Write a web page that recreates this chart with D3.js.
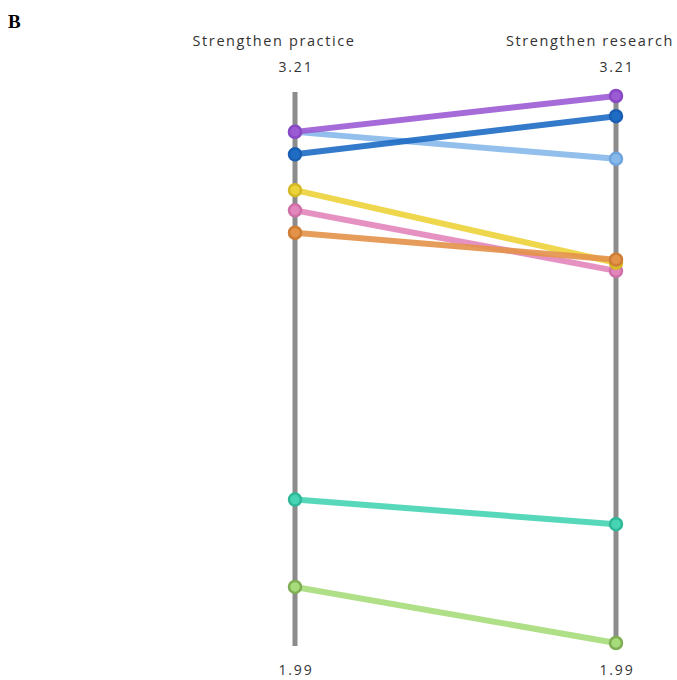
<!DOCTYPE html>
<html><head><meta charset="utf-8">
<script src="https://cdn.jsdelivr.net/npm/d3@7"></script>
<style>body{margin:0;background:#fff}svg{display:block}</style>
</head><body>
<script>
const dimensions = ["Strengthen practice", "Strengthen research"];
const domainMax = 3.21, domainMin = 1.99;
const seriesNames = ["purple","darkblue","lightblue","yellow","pink","orange","teal","green"];
const practiceValues = [3.13, 3.08, 3.13, 3.00, 2.955, 2.905, 2.31, 2.115];
const researchValues = [3.21, 3.165, 3.07, 2.838, 2.82, 2.845, 2.255, 1.99];
const lineColors = ["#9b5bd4","#1e6cc4","#86b8ea","#ecd33a","#e286bc","#e3924a","#46d4b4","#a6dc7a"];
const dotColors  = ["#8a48c4","#1a5fb3","#6fa5de","#d4b824","#cf6fa8","#cf7d34","#2fb897","#7fae55"];

const W = 677, H = 680;
const svg = d3.select("body").append("svg").attr("width", W).attr("height", H);
const x = d3.scalePoint().domain(dimensions).range([295, 616]);
const y = d3.scaleLinear().domain([domainMin, domainMax]).range([643, 96]);

svg.append("text").attr("x", 8).attr("y", 28).text("B")
  .attr("font-family", "Liberation Serif, Times New Roman, serif")
  .attr("font-weight", "bold").attr("font-size", 19).attr("fill", "#000");

const font = "Open Sans, sans-serif";
dimensions.forEach(d => {
  svg.append("line").attr("x1", x(d)).attr("x2", x(d)).attr("y1", 92).attr("y2", 646)
    .attr("stroke", "#8c8c8c").attr("stroke-width", 5);
  const tx = d === dimensions[0] ? x(d) - 21 : x(d) - 26;
  svg.append("text").attr("x", tx).attr("y", 46).attr("text-anchor", "middle")
    .attr("font-family", font).attr("font-size", 14.5).attr("letter-spacing", "1.6px")
    .attr("fill", "#333").text(d);
  svg.append("text").attr("x", x(d) + 1).attr("y", 72).attr("text-anchor", "middle")
    .attr("font-family", font).attr("font-size", 14).attr("letter-spacing", "1.8px")
    .attr("fill", "#333").text(domainMax.toFixed(2));
  svg.append("text").attr("x", x(d) + 1).attr("y", 675).attr("text-anchor", "middle")
    .attr("font-family", font).attr("font-size", 14).attr("letter-spacing", "1.8px")
    .attr("fill", "#333").text(domainMin.toFixed(2));
});

const data = seriesNames.map((n, i) => ({name: n, vals: [practiceValues[i], researchValues[i]], c: lineColors[i], dc: dotColors[i]}));
const order = [6,7,4,3,5,2,1,0];
order.forEach(i => {
  const s = data[i];
  svg.append("line")
    .attr("x1", x(dimensions[0])).attr("y1", y(s.vals[0]))
    .attr("x2", x(dimensions[1])).attr("y2", y(s.vals[1]))
    .attr("stroke", s.c).attr("stroke-width", 6).attr("stroke-opacity", 0.9).attr("stroke-linecap", "round");
});
order.forEach(i => {
  const s = data[i];
  s.vals.forEach((v, j) => {
    svg.append("circle").attr("cx", x(dimensions[j])).attr("cy", y(v)).attr("r", 6)
      .attr("fill", s.c).attr("stroke", s.dc).attr("stroke-width", 2.5);
  });
});
</script>
</body></html>
